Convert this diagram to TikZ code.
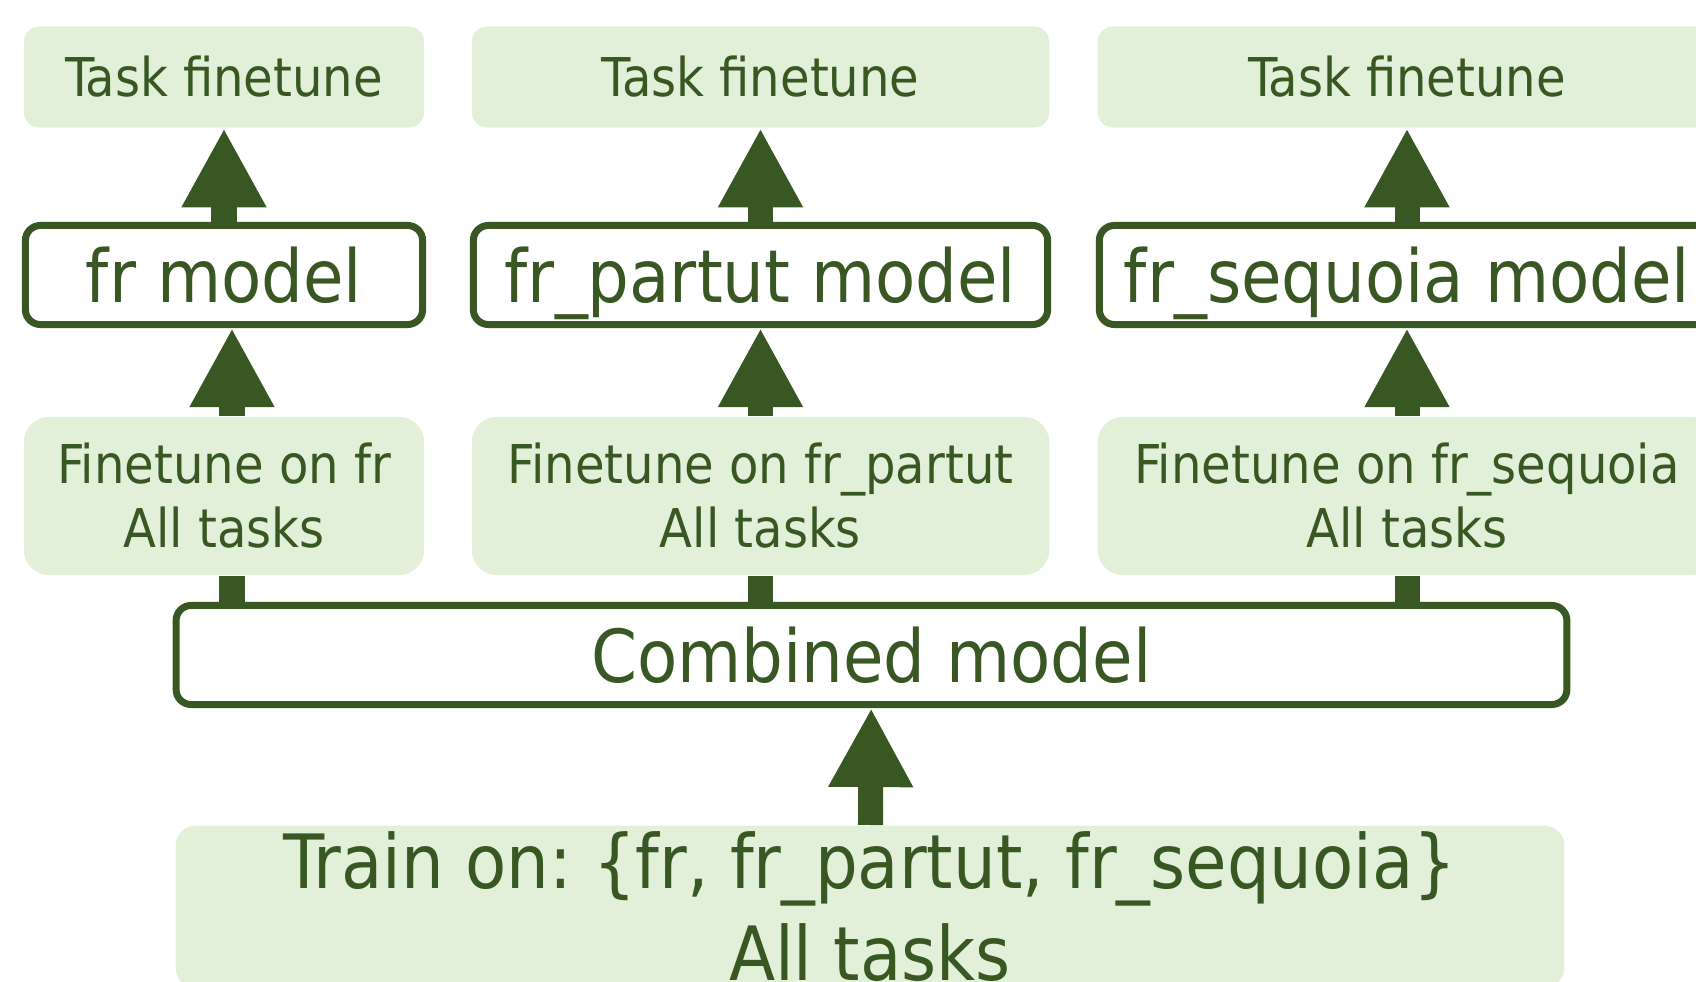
\documentclass[tikz,border=0pt]{standalone}
\usepackage{fontspec}
\setmainfont{DejaVu Sans Condensed}
\usetikzlibrary{arrows.meta}
\usetikzlibrary{math}

\definecolor{leafgreen}{HTML}{385723}
\definecolor{palegreen}{HTML}{E2F0D9}

\tikzset{
  stage/.style={fill=palegreen, text=leafgreen, rounded corners=0.15cm, inner sep=0pt, align=center, font=\fontsize{15.2}{18.2}\selectfont},
  bigstage/.style={stage, font=\fontsize{21.3}{26}\selectfont},
  modelbox/.style={draw=leafgreen, fill=white, line width=0.07cm, text=leafgreen, rounded corners=0.15cm, inner sep=0pt, text height=0.67cm, text depth=0.13cm, font=\fontsize{20.8}{25}\selectfont},
  uparrow/.style={draw=leafgreen, line width=0.25cm, -{Triangle[length=0.79cm,width=0.79cm]}},
  feed/.style={draw=leafgreen, line width=0.25cm},
}

\begin{document}
\begin{tikzpicture}[x=0.01cm, y=-0.01cm]
    \clip (0,0) rectangle (1696,982);

    \tikzmath{\ya = 77; \yb = 275; \yc = 496; \yd = 655;};
    \tikzmath{\xa = 224; \xb = 760.5; \xc = 1407;};

    \node [stage, minimum width=4cm, minimum height=1.01cm] (task1) at (\xa,\ya) {Task finetune};
    \node [stage, minimum width=5.77cm, minimum height=1.01cm] (task2) at (\xb,\ya) {Task finetune};
    \node [stage, minimum width=6.18cm, minimum height=1.01cm] (task3) at (\xc,\ya) {Task finetune};

    \node [modelbox, minimum width=3.97cm, minimum height=0.99cm] (mod1) at (\xa,\yb) {fr model};
    \node [modelbox, minimum width=5.74cm, minimum height=0.99cm] (mod2) at (\xb,\yb) {fr\_partut model};
    \node [modelbox, minimum width=6.15cm, minimum height=0.99cm] (mod3) at (\xc,\yb) {fr\_sequoia model};

    \node [stage, rounded corners=0.25cm, minimum width=4cm, minimum height=1.58cm] (fin1) at (\xa,\yc) {Finetune on fr\\All tasks};
    \node [stage, rounded corners=0.25cm, minimum width=5.77cm, minimum height=1.58cm] (fin2) at (\xb,\yc) {Finetune on fr\_partut\\All tasks};
    \node [stage, rounded corners=0.25cm, minimum width=6.18cm, minimum height=1.58cm] (fin3) at (\xc,\yc) {Finetune on fr\_sequoia\\All tasks};

    \node [modelbox, minimum width=13.9cm, minimum height=0.99cm] (comb) at (871.5,\yd) {Combined model};
    \node [bigstage, rounded corners=0.2cm, minimum width=13.88cm, minimum height=1.62cm, anchor=north] (train) at (870,825) {Train on:\ \{fr, fr\_partut, fr\_sequoia\}\\All tasks};

    \draw [uparrow] (mod1) -- (task1);
    \draw [uparrow] (mod2) -- (task2);
    \draw [uparrow] (mod3) -- (task3);

    \draw [uparrow] ([xshift=0.08cm]fin1.north) -- ([xshift=0.08cm]mod1.south);
    \draw [uparrow] (fin2) -- (mod2);
    \draw [uparrow] (fin3) -- (mod3);

    \draw [feed] ([xshift=0.08cm]fin1.south) -- ([xshift=0.08cm]fin1.south |- comb.north);
    \draw [feed] (fin2.south) -- (fin2.south |- comb.north);
    \draw [feed] (fin3.south) -- (fin3.south |- comb.north);

    \draw [uparrow] (train) -- (comb);
\end{tikzpicture}
\end{document}
